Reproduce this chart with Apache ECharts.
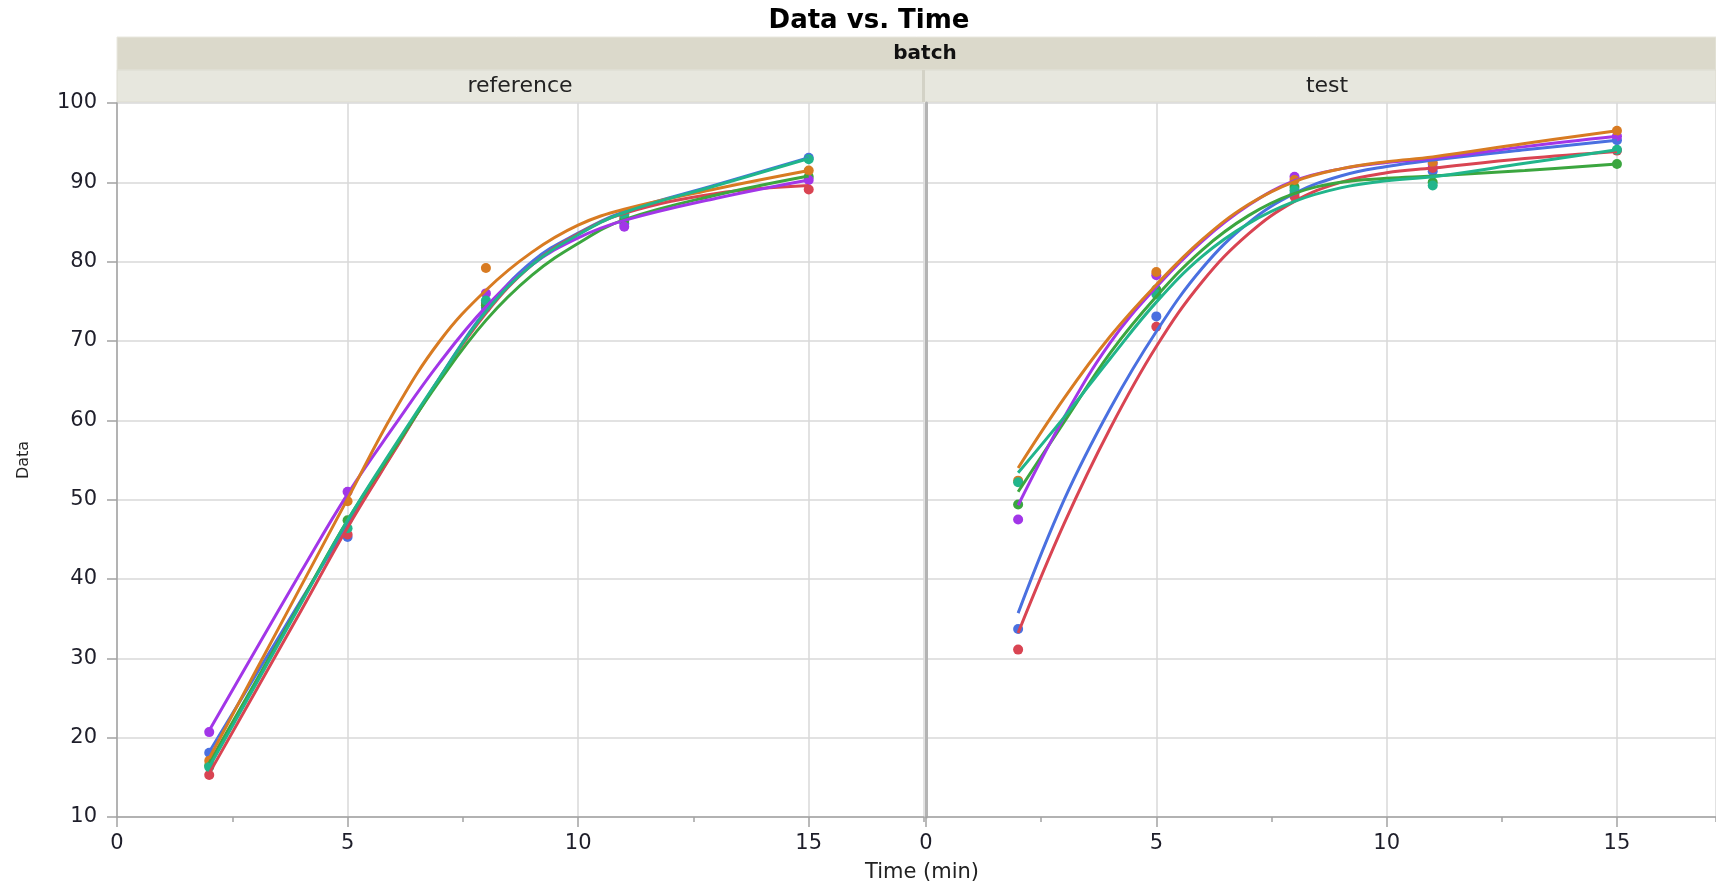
<!DOCTYPE html>
<html>
<head>
<meta charset="utf-8">
<script src="https://cdn.jsdelivr.net/npm/echarts@6/dist/echarts.min.js"></script>
<style>
html,body{margin:0;padding:0;background:#fff;}
#chart{width:1716px;height:885px;}
</style>
</head>
<body>
<div id="chart"></div>
<script>
// ---- data ----
const obsTimes = [2, 5, 8, 11, 15];
const fitTimes = [2, 3, 4, 5, 6, 7, 8, 9, 10, 11, 13, 15];
const panels = ['reference', 'test'];
const seriesKeys = ['blue', 'red', 'green', 'purple', 'orange', 'teal'];

// reference batch: observed points
const refBlueObs   = [18.1, 45.3, 74.2, 84.8, 93.1];
const refRedObs    = [15.3, 45.6, 74.8, 85.5, 89.1];
const refGreenObs  = [16.5, 47.4, 74.5, 85.2, 90.7];
const refPurpleObs = [20.7, 51.0, 76.0, 84.4, 90.3];
const refOrangeObs = [17.1, 49.8, 79.2, 86.0, 91.5];
const refTealObs   = [16.3, 46.4, 75.1, 85.9, 92.9];
// reference batch: fitted curves (read at fitTimes)
const refBlueFit   = [18.2, 27.8, 37.4, 46.8, 56.1, 65.4, 73.9, 80.0, 83.6, 86.3, 89.7, 93.1];
const refRedFit    = [15.5, 25.8, 36.1, 46.5, 56.0, 65.3, 73.5, 79.6, 83.5, 86.1, 88.6, 89.6];
const refGreenFit  = [16.8, 27.0, 37.2, 47.4, 56.3, 65.0, 72.6, 78.3, 82.3, 85.3, 88.4, 90.8];
const refPurpleFit = [20.9, 31.0, 41.0, 50.7, 59.2, 67.3, 74.3, 79.6, 83.0, 85.2, 88.0, 90.3];
const refOrangeFit = [17.4, 28.3, 39.2, 50.1, 61.0, 70.0, 76.4, 81.2, 84.6, 86.6, 89.2, 91.5];
const refTealFit   = [16.3, 26.6, 37.0, 47.4, 56.6, 65.4, 73.7, 79.6, 83.4, 86.2, 89.6, 93.0];

// test batch: observed points
const testBlueObs   = [33.7, 73.1, 88.6, 91.4, 95.3];
const testRedObs    = [31.1, 71.8, 88.2, 91.8, 94.0];
const testGreenObs  = [49.4, 76.5, 89.4, 90.0, 92.3];
const testPurpleObs = [47.5, 78.3, 90.7, 92.3, 95.8];
const testOrangeObs = [52.4, 78.7, 90.3, 92.5, 96.5];
const testTealObs   = [52.2, 75.9, 89.0, 89.6, 94.1];
// test batch: fitted curves
const testBlueFit   = [35.7, 50.0, 61.5, 71.2, 79.2, 84.9, 88.6, 90.8, 92.0, 92.8, 94.1, 95.3];
const testRedFit    = [33.2, 47.0, 59.0, 69.3, 77.5, 83.5, 87.6, 90.0, 91.2, 91.8, 93.0, 93.9];
const testGreenFit  = [51.0, 59.8, 68.5, 75.6, 81.5, 85.8, 88.6, 90.0, 90.5, 90.8, 91.5, 92.3];
const testPurpleFit = [49.3, 60.4, 69.8, 76.8, 82.6, 87.1, 90.2, 91.7, 92.5, 93.0, 94.5, 95.8];
const testOrangeFit = [54.0, 62.8, 70.6, 77.1, 82.8, 87.2, 90.1, 91.7, 92.6, 93.2, 94.9, 96.5];
const testTealFit   = [53.4, 60.4, 67.8, 74.9, 80.7, 84.8, 87.6, 89.3, 90.2, 90.7, 92.4, 94.1];

const yMin = 10, yMax = 100, yStep = 10;
const xStep = 5, xMinorStep = 2.5;

// ---- styling ----
const colors = {
  blue: '#4a70e0', red: '#d94452', green: '#3ba63f',
  purple: '#a236e8', orange: '#d87b22', teal: '#21b58b'
};
const FONT = 'DejaVu Sans';
const axisGrey = '#a3a3a3';
const gridGrey = '#d8d8d8';

const obsData = {
  reference: {blue: refBlueObs, red: refRedObs, green: refGreenObs, purple: refPurpleObs, orange: refOrangeObs, teal: refTealObs},
  test: {blue: testBlueObs, red: testRedObs, green: testGreenObs, purple: testPurpleObs, orange: testOrangeObs, teal: testTealObs}
};
const fitData = {
  reference: {blue: refBlueFit, red: refRedFit, green: refGreenFit, purple: refPurpleFit, orange: refOrangeFit, teal: refTealFit},
  test: {blue: testBlueFit, red: testRedFit, green: testGreenFit, purple: testPurpleFit, orange: testOrangeFit, teal: testTealFit}
};

const gridTop = 103, gridBottom = 68;
const grids = [
  {left: 117, top: gridTop, width: 807, bottom: gridBottom},
  {left: 926, top: gridTop, right: 0, bottom: gridBottom}
];
const xMaxes = [17.5, 17.15];

const xAxes = [];
const yAxes = [];
panels.forEach((p, i) => {
  xAxes.push({
    gridIndex: i, type: 'value', min: 0, max: xMaxes[i], interval: xStep,
    axisLine: {show: true, lineStyle: {color: axisGrey, width: 1.5}},
    axisTick: {show: true, length: 10, lineStyle: {color: axisGrey, width: 1.5}},
    axisLabel: {show: true, margin: 16, fontFamily: FONT, fontSize: 21, color: '#1e1e2a',
      showMaxLabel: false,
      formatter: v => (Math.abs(v % xStep) < 1e-9 ? String(v) : '')},
    splitLine: {show: true, lineStyle: {color: gridGrey, width: 1.5}}
  });
});
panels.forEach((p, i) => {
  xAxes.push({
    gridIndex: i, type: 'value', min: 0, max: xMaxes[i], interval: xMinorStep,
    position: 'bottom',
    axisLine: {show: false},
    axisTick: {show: true, length: 5, lineStyle: {color: axisGrey, width: 1.5}},
    axisLabel: {show: false},
    splitLine: {show: false}
  });
});
panels.forEach((p, i) => {
  yAxes.push({
    gridIndex: i, type: 'value', min: yMin, max: yMax, interval: yStep,
    name: i === 0 ? 'Data' : '',
    nameLocation: 'middle', nameRotate: 90, nameGap: 85,
    nameTextStyle: {fontFamily: FONT, fontSize: 16, color: '#222'},
    axisLine: {show: true, lineStyle: {color: i === 0 ? axisGrey : '#b4b4b4', width: i === 0 ? 1.5 : 3}},
    axisTick: {show: i === 0, length: 10, lineStyle: {color: axisGrey, width: 1.5}},
    axisLabel: {show: i === 0, margin: 20, fontFamily: FONT, fontSize: 21, color: '#1e1e2a'},
    splitLine: {show: true, lineStyle: {color: gridGrey, width: 1.5}}
  });
});

const series = [];
panels.forEach((p, i) => {
  seriesKeys.forEach(k => {
    series.push({
      type: 'scatter', name: p + '-' + k + '-obs',
      xAxisIndex: i, yAxisIndex: i,
      symbol: 'circle', symbolSize: 10,
      itemStyle: {color: colors[k], opacity: 1},
      data: obsTimes.map((t, j) => [t, obsData[p][k][j]]),
      z: 2
    });
  });
});
panels.forEach((p, i) => {
  seriesKeys.forEach(k => {
    series.push({
      type: 'line', name: p + '-' + k + '-fit',
      xAxisIndex: i, yAxisIndex: i,
      smooth: 0.4, showSymbol: false, symbol: 'none',
      lineStyle: {color: colors[k], width: 3},
      data: fitTimes.map((t, j) => [t, fitData[p][k][j]]),
      z: 3
    });
  });
});

const graphics = [
  {type: 'rect', shape: {x: 117, y: 37, width: 1599, height: 33}, style: {fill: '#dbd9cb', stroke: '#e9e8df', lineWidth: 1}, silent: true},
  {type: 'rect', shape: {x: 117, y: 70, width: 1599, height: 32}, style: {fill: '#e7e7de', stroke: '#dcdbd0', lineWidth: 1}, silent: true},
  {type: 'rect', shape: {x: 922, y: 70, width: 3, height: 32}, style: {fill: '#d3d2c6'}, silent: true},
  {type: 'text', x: 869, y: 21, style: {text: 'Data vs. Time', font: 'bold 26px "DejaVu Sans"', fill: '#000', textAlign: 'center', textVerticalAlign: 'middle'}},
  {type: 'text', x: 925, y: 54, style: {text: 'batch', font: 'bold 20px "DejaVu Sans"', fill: '#111', textAlign: 'center', textVerticalAlign: 'middle'}},
  {type: 'text', x: 520, y: 86, style: {text: panels[0], font: '22px "DejaVu Sans"', fill: '#222', textAlign: 'center', textVerticalAlign: 'middle'}},
  {type: 'text', x: 1327, y: 86, style: {text: panels[1], font: '22px "DejaVu Sans"', fill: '#222', textAlign: 'center', textVerticalAlign: 'middle'}},
  {type: 'text', x: 922, y: 873, style: {text: 'Time (min)', font: '21px "DejaVu Sans"', fill: '#222', textAlign: 'center', textVerticalAlign: 'middle'}}
];

const chart = echarts.init(document.getElementById('chart'), null, {renderer: 'canvas'});
chart.setOption({
  animation: false,
  backgroundColor: '#ffffff',
  grid: grids,
  xAxis: xAxes,
  yAxis: yAxes,
  series: series,
  graphic: graphics
});
</script>
</body>
</html>
